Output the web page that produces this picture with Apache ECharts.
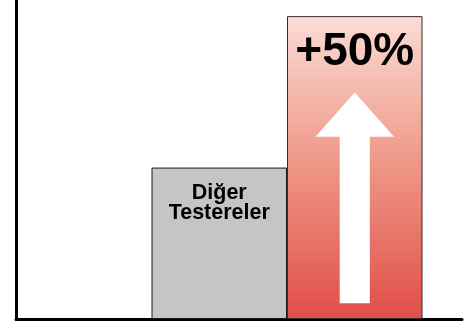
<!DOCTYPE html>
<html>
<head>
<meta charset="utf-8">
<script src="https://cdn.jsdelivr.net/npm/echarts@6/dist/echarts.min.js"></script>
<style>
  html, body { margin: 0; padding: 0; background: #fff; }
  #chart { width: 472px; height: 321px; }
</style>
</head>
<body>
<div id="chart"></div>
<script>
// Categories double as the text shown inside each bar
const categories = ['', 'Diğer\nTestereler', '+50%'];
const values = [null, 50, 100];
const yMax = 105;

const FONT = '"Liberation Sans", Arial, Helvetica, sans-serif';

// Per-bar appearance
const barStyles = [
  {},
  {
    itemStyle: { color: '#c5c5c5', borderColor: '#1a1a1a', borderWidth: 1 },
    label: { fontSize: 21.5, lineHeight: 20, distance: 16 }
  },
  {
    itemStyle: {
      color: new echarts.graphic.LinearGradient(0, 0, 0, 1, [
        { offset: 0, color: '#fbdcd4' },
        { offset: 0.5, color: '#ee9585' },
        { offset: 1, color: '#e14e49' }
      ]),
      borderColor: '#3a2a2a',
      borderWidth: 1
    },
    label: { fontSize: 46, lineHeight: 46, distance: 13 }
  }
];

const barData = values.map((v, i) => Object.assign({ value: v }, barStyles[i]));

// Upward arrow drawn inside the tallest bar, sized from the bar's own extent
function renderArrow(params, api) {
  const cat = api.value(0);
  const top = api.coord([cat, api.value(1)]);
  const base = api.coord([cat, 0]);
  const bandW = api.size([1, 0])[0];
  const h = base[1] - top[1];
  const cx = top[0];
  const tipY = top[1] + h * 0.252;
  const headY = top[1] + h * 0.398;
  const tailY = top[1] + h * 0.948;
  const headHalf = bandW * 0.29;
  const shaftHalf = bandW * 0.111;
  return {
    type: 'polygon',
    shape: {
      points: [
        [cx, tipY],
        [cx + headHalf, headY],
        [cx + shaftHalf, headY],
        [cx + shaftHalf, tailY],
        [cx - shaftHalf, tailY],
        [cx - shaftHalf, headY],
        [cx - headHalf, headY]
      ]
    },
    style: { fill: '#ffffff' }
  };
}

const chart = echarts.init(document.getElementById('chart'), null, { renderer: 'canvas' });
chart.setOption({
  animation: false,
  backgroundColor: '#ffffff',
  grid: [
    { left: 16, right: 49.5, top: 1, bottom: 2 },
    { left: 16, right: 10, top: 1, bottom: 2 }
  ],
  xAxis: [
    {
      type: 'category',
      gridIndex: 0,
      data: categories,
      axisLine: { show: false },
      axisTick: { show: false },
      axisLabel: { show: false }
    },
    {
      type: 'value',
      gridIndex: 1,
      min: 0,
      max: 1,
      axisLine: { show: true, lineStyle: { color: '#000', width: 3 } },
      axisTick: { show: false },
      axisLabel: { show: false },
      splitLine: { show: false }
    }
  ],
  yAxis: [
    {
      type: 'value',
      gridIndex: 0,
      min: 0,
      max: yMax,
      axisLine: { show: true, lineStyle: { color: '#000', width: 3, cap: 'square' } },
      axisTick: { show: false },
      axisLabel: { show: false },
      splitLine: { show: false }
    },
    {
      type: 'value',
      gridIndex: 1,
      show: false
    }
  ],
  series: [
    {
      type: 'bar',
      xAxisIndex: 0,
      yAxisIndex: 0,
      data: barData,
      barWidth: '100%',
      barGap: '0%',
      label: {
        show: true,
        position: 'insideTop',
        formatter: p => p.name,
        color: '#000',
        fontWeight: 'bold',
        fontFamily: FONT,
        align: 'center'
      },
      z: 2
    },
    {
      type: 'custom',
      xAxisIndex: 0,
      yAxisIndex: 0,
      renderItem: renderArrow,
      data: [[2, values[2]]],
      z: 3,
      silent: true
    }
  ]
});
</script>
</body>
</html>
